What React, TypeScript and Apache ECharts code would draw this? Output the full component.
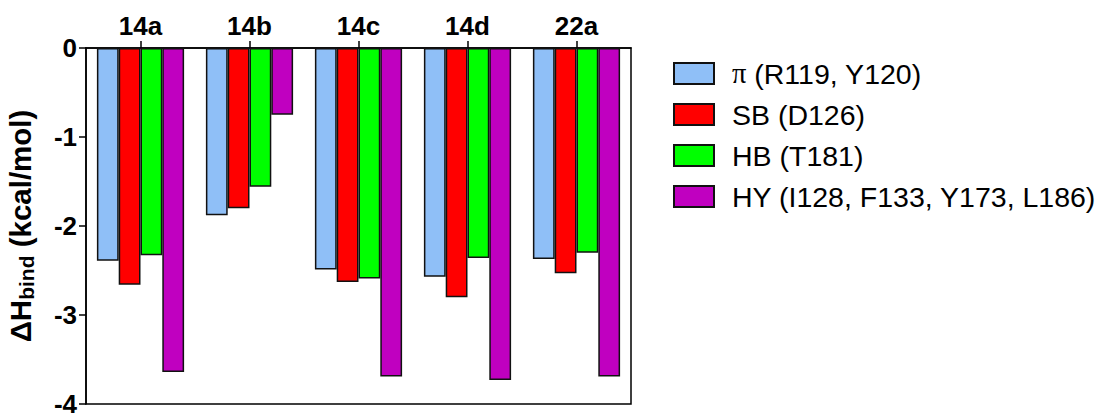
import React, { useEffect, useRef } from "react";
import * as echarts from "echarts";

const categories = ["14a", "14b", "14c", "14d", "22a"];
const seriesNames = ["π (R119, Y120)", "SB (D126)", "HB (T181)", "HY (I128, F133, Y173, L186)"];
const piValues = [-2.39, -1.88, -2.49, -2.57, -2.37];
const sbValues = [-2.66, -1.80, -2.63, -2.80, -2.53];
const hbValues = [-2.33, -1.56, -2.59, -2.36, -2.30];
const hyValues = [-3.64, -0.75, -3.69, -3.73, -3.69];
const colors = ["#8fbff7", "#ff0000", "#00ff00", "#c000c0"];
const yTicks = [-4, -3, -2, -1, 0];

export default function App() {
  const ref = useRef<HTMLDivElement>(null);
  useEffect(() => {
    if (!ref.current) return;
    const chart = echarts.init(ref.current, null, { renderer: "svg" });
    const font = "'Liberation Sans', Arial, sans-serif";
    const values = [piValues, sbValues, hbValues, hyValues];
    chart.setOption({
      animation: false,
      backgroundColor: "#ffffff",
      textStyle: { fontFamily: font },
      grid: {
        left: 86,
        top: 48,
        width: 545,
        height: 359,
        show: true,
        borderColor: "#000",
        borderWidth: 1.5,
        backgroundColor: "transparent",
      },
      legend: {
        orient: "vertical",
        left: 668,
        top: 53,
        itemWidth: 40,
        itemHeight: 21,
        itemGap: 10,
        icon: "rect",
        data: seriesNames,
        selectedMode: false,
        textStyle: {
          fontFamily: font,
          fontSize: 28.5,
          lineHeight: 31,
          color: "#000",
          padding: [0, 0, 0, 13],
          rich: {
            pi: { fontFamily: "'Liberation Serif', 'Times New Roman', serif", fontSize: 28.5, lineHeight: 31, color: "#000" },
          },
        },
        formatter: (name: string) => (name.startsWith("π") ? "{pi|π}" + name.slice(1) : name),
      },
      xAxis: {
        type: "category",
        data: categories,
        position: "top",
        axisLine: { show: true, lineStyle: { color: "#000", width: 1.5 } },
        axisTick: { show: true, alignWithLabel: true, length: 7, lineStyle: { color: "#000", width: 1.5 } },
        axisLabel: { color: "#000", fontSize: 26, fontWeight: "bold", fontFamily: font, margin: 9 },
        splitLine: { show: false },
      },
      yAxis: {
        type: "value",
        min: yTicks[0],
        max: yTicks[yTicks.length - 1],
        interval: 1,
        axisLine: { show: true, lineStyle: { color: "#000", width: 1.5 } },
        axisTick: { show: true, length: 7, lineStyle: { color: "#000", width: 1.5 } },
        axisLabel: { color: "#000", fontSize: 26, fontWeight: "bold", fontFamily: font, margin: 9 },
        splitLine: { show: false },
        name: "{d|Δ}{h|H}{sub|bind}{t| (kcal/mol)}",
        nameLocation: "middle",
        nameRotate: 90,
        nameGap: 49,
        nameTextStyle: {
          rich: {
            d: { fontSize: 29.5, fontWeight: "bold", color: "#000", fontFamily: font, lineHeight: 33 },
            h: { fontSize: 29.5, fontWeight: "bold", color: "#000", fontFamily: font, lineHeight: 33 },
            sub: { fontSize: 21, fontWeight: "bold", color: "#000", fontFamily: font, verticalAlign: "bottom", lineHeight: 21 },
            t: { fontSize: 29.5, fontWeight: "bold", color: "#000", fontFamily: font, lineHeight: 33 },
          },
        },
      },
      series: seriesNames.map((name, i) => ({
        name,
        type: "bar",
        data: values[i],
        barGap: "0%",
        barCategoryGap: "20%",
        itemStyle: { color: colors[i], borderColor: "#111", borderWidth: 1.5 },
      })),
    });
    return () => chart.dispose();
  }, []);
  return (
    <div
      ref={ref}
      style={{ position: "absolute", left: 0, top: 0, width: 1111, height: 417 }}
    />
  );
}
